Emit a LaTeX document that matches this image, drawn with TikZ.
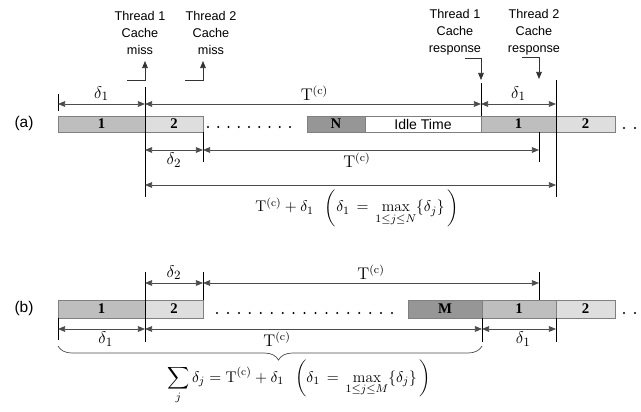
\documentclass[tikz,border=0pt]{standalone}
\usepackage{amsmath}
\usepackage{fontspec}
\usetikzlibrary{arrows.meta, decorations.pathreplacing}
\newfontfamily\arialf{Liberation Sans}
\newfontfamily\timesf{Liberation Serif}
\definecolor{blkdark}{RGB}{150,150,150}
\definecolor{blkmid}{RGB}{190,190,190}
\definecolor{blklite}{RGB}{222,222,222}

\begin{document}
\begin{tikzpicture}[x=0.025cm, y=-0.025cm,
  >={Triangle[length=5pt, width=4pt]},
  blk/.style={draw=black!50, line width=0.6pt},
  dim/.style={<->, draw=black!70, line width=0.5pt},
  guide/.style={draw=black, line width=0.4pt},
  call/.style={->, draw=black!80, line width=0.5pt},
  txt/.style={font=\arialf\fontsize{9}{12}\selectfont, align=center},
  tag/.style={font=\arialf\fontsize{11}{13}\selectfont},
  num/.style={font=\timesf\bfseries\fontsize{10.5}{12}\selectfont},
  lab/.style={font=\fontsize{11}{13}\selectfont},
  dlab/.style={font=\fontsize{13}{15}\selectfont, inner sep=2pt},
  tlab/.style={font=\fontsize{12}{14}\selectfont, inner sep=2pt}]
\useasboundingbox (0,0) rectangle (641,412);

% ---------------- (a) ----------------
\node[tag] (taga) at (24,124) {(a)};

\draw[blk, fill=blkmid]  (58,116)  rectangle node[num] (a1)  {1} (145,132);
\draw[blk, fill=blklite] (145,116) rectangle node[num] (a2)  {2} (203,132);
\draw[blk, fill=blkdark] (307,116) rectangle node[num] (aN)  {N} (365,132);
\draw[blk, fill=white]   (365,116) rectangle node[txt, font=\arialf\fontsize{10}{12}\selectfont] (aidle) {Idle Time} (481,132);
\draw[blk, fill=blkmid]  (481,116) rectangle node[num] (a1r) {1} (556,132);
\draw[blk, fill=blklite] (556,116) rectangle node[num] (a2r) {2} (615,132);

\foreach \i in {0,...,8}
  \fill (208+10.25*\i,127) circle[radius=0.8pt];
\foreach \x in {624,635}
  \fill (\x,128) circle[radius=0.8pt];

% thread events
\node[txt] (t1miss) at (140,33) {Thread 1\\Cache\\miss};
\node[txt] (t2miss) at (211,33) {Thread 2\\Cache\\miss};
\node[txt] (t1resp) at (455,32) {Thread 1\\Cache\\response};
\node[txt] (t2resp) at (534,32) {Thread 2\\Cache\\response};

\coordinate (m1a) at (127,80);  \coordinate (m1b) at (145,61);
\coordinate (m2a) at (185,80);  \coordinate (m2b) at (203,61);
\coordinate (r1a) at (465,58);  \coordinate (r1b) at (481,80);
\coordinate (r2a) at (522,57);  \coordinate (r2b) at (539,79);
\draw[call] (m1a) -| (m1b);
\draw[call] (m2a) -| (m2b);
\draw[call] (r1a) -| (r1b);
\draw[call] (r2a) -| (r2b);

% guides
\draw[guide] (58,94) -- (58,111);
\draw[guide] (145,87) -- (145,197);
\draw[guide] (203,132) -- (203,162);
\draw[guide] (481,83) -- (481,116);
\draw[guide] (539,132) -- (539,162);
\draw[guide] (556,80) -- (556,197);

% dimensions
\foreach \n/\x in {0/58,1/145,2/481,3/556}
  \coordinate (p\n) at (\x,104);
\foreach \n/\x in {0/145,1/203,2/539}
  \coordinate (q\n) at (\x,150);
\coordinate (s0) at (145,185);
\coordinate (s1) at (556,185);

\draw[dim] (p0) -- node[dlab, above] (da1) {$\delta_1$} (p1);
\draw[dim] (p1) -- node[tlab, above, xshift=1pt] (ta1) {$\mathrm{T}^{(\mathrm{c})}$} (p2);
\draw[dim] (p2) -- node[dlab, above] (da2) {$\delta_1$} (p3);
\draw[dim] (q0) -- node[dlab, below] (db1) {$\delta_2$} (q1);
\draw[dim] (q1) -- node[tlab, below, xshift=-10pt] (tb1) {$\mathrm{T}^{(\mathrm{c})}$} (q2);
\draw[dim] (s0) -- (s1);
\node[lab] (suma) at (357,208)
  {$\mathrm{T}^{(\mathrm{c})} + \delta_1 \;\; \left(\delta_1 \,=\, \displaystyle\max_{1\le j\le N}\{\delta_j\}\,\right)$};

% ---------------- (b) ----------------
\node[tag] (tagb) at (24,309) {(b)};

\draw[blk, fill=blkmid]  (58,300)  rectangle node[num] (b1)  {1} (145,318);
\draw[blk, fill=blklite] (145,300) rectangle node[num] (b2)  {2} (203,318);
\draw[blk, fill=blkdark] (408,300) rectangle node[num] (bM)  {M} (482,318);
\draw[blk, fill=blkmid]  (482,300) rectangle node[num] (b1r) {1} (556,318);
\draw[blk, fill=blklite] (556,300) rectangle node[num] (b2r) {2} (615,318);

\foreach \i in {0,...,16}
  \fill (217+10.94*\i,313) circle[radius=0.8pt];
\foreach \x in {624,635}
  \fill (\x,313) circle[radius=0.8pt];

% guides
\draw[guide] (145,272) -- (145,342);
\draw[guide] (203,272) -- (203,300);
\draw[guide] (539,272) -- (539,300);
\draw[guide] (58,318) -- (58,340);
\draw[guide] (482,318) -- (482,342);
\draw[guide] (556,318) -- (556,342);

% dimensions
\foreach \n/\x in {0/145,1/203,2/539}
  \coordinate (u\n) at (\x,283);
\foreach \n/\x in {0/58,1/145,2/482,3/556}
  \coordinate (v\n) at (\x,329);

\draw[dim] (u0) -- node[dlab, above] (dc1) {$\delta_2$} (u1);
\draw[dim] (u1) -- node[tlab, above, xshift=-0pt] (tc1) {$\mathrm{T}^{(\mathrm{c})}$} (u2);
\draw[dim] (v0) -- node[dlab, below, xshift=3pt] (dd1) {$\delta_1$} (v1);
\draw[dim] (v1) -- (v2);
\node[tlab] (td1) at (277,339) {$\mathrm{T}^{(\mathrm{c})}$};
\draw[dim] (v2) -- node[dlab, below, xshift=3pt] (dd2) {$\delta_1$} (v3);

\coordinate (br0) at (58,346);
\coordinate (br1) at (482,346);
\draw[black!70, line width=0.5pt, decorate,
  decoration={brace, mirror, amplitude=10pt, aspect=0.52}] (br0) -- (br1);

\node[lab] (sumb) at (299,382)
  {$\displaystyle\sum_{j} \delta_j = \mathrm{T}^{(\mathrm{c})} + \delta_1 \;\; \left(\delta_1 \,=\, \max_{1\le j\le M}\{\delta_j\}\,\right)$};
\end{tikzpicture}
\end{document}
